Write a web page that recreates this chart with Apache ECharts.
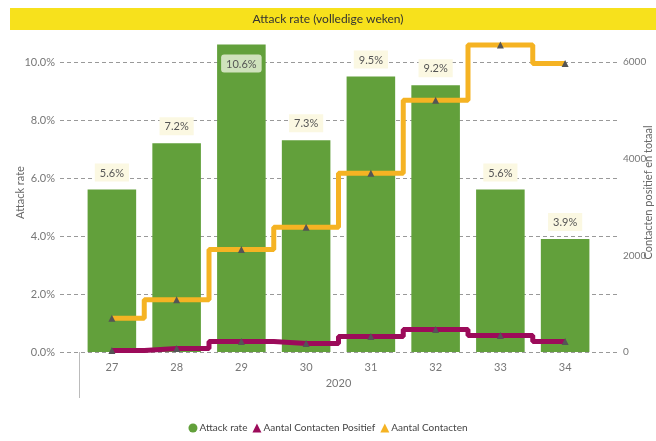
<!DOCTYPE html>
<html>
<head>
<meta charset="utf-8">
<script src="https://cdn.jsdelivr.net/npm/echarts@6/dist/echarts.min.js"></script>
<style>
html,body{margin:0;padding:0;background:#fff;}
#chart{width:656px;height:441px;}
</style>
</head>
<body>
<div id="chart"></div>
<script>
var weeks = ['27','28','29','30','31','32','33','34'];
var yearLabel = ['2020'];
var attackRate = [0.056, 0.072, 0.106, 0.073, 0.095, 0.092, 0.056, 0.039];
var contactenPositief = [30, 70, 215, 175, 320, 465, 340, 215];
var contactenTotaal = [700, 1080, 2120, 2580, 3700, 5210, 6350, 5970];

var FONT = "Lato, 'Open Sans', sans-serif";
var GREEN = '#62a03b';
var PURPLE = '#9c0b5a';
var YELLOW = '#f5b323';

var maxIdx = attackRate.indexOf(Math.max.apply(null, attackRate));
var barData = attackRate.map(function (v, i) {
  if (i === maxIdx) {
    return { value: v, label: { position: 'insideTop', distance: 10, backgroundColor: '#cfe2bc', borderRadius: 3 } };
  }
  return v;
});

var chart = echarts.init(document.getElementById('chart'), null, { renderer: 'canvas' });
var option = {
  animation: false,
  textStyle: { fontFamily: FONT },
  graphic: [
    { type: 'rect', shape: { x: 10, y: 8, width: 646, height: 22 }, style: { fill: '#f7e11c' }, z: 0 },
    { type: 'text', x: 328, y: 19, style: { text: 'Attack rate (volledige weken)', fontFamily: FONT, fontSize: 12, fill: '#333', align: 'center', verticalAlign: 'middle' }, z: 1 },
    { type: 'line', shape: { x1: 79.5, y1: 352, x2: 79.5, y2: 398 }, style: { stroke: '#bbb', lineWidth: 1 } }
  ],
  grid: [
    { left: 60, right: 38, top: 33, bottom: 89, outerBoundsMode: 'none', containLabel: false },
    { left: 79.5, right: 58.5, top: 33, bottom: 89, outerBoundsMode: 'none', containLabel: false }
  ],
  xAxis: [
    { gridIndex: 0, type: 'value', show: false, min: 0, max: 1 },
    { gridIndex: 1, type: 'category', data: weeks, axisLine: { show: false }, axisTick: { show: false },
      axisLabel: { color: '#777', fontSize: 11, margin: 10, fontFamily: FONT } },
    { gridIndex: 1, type: 'category', data: yearLabel, position: 'bottom', offset: 16, axisLine: { show: false }, axisTick: { show: false },
      axisLabel: { color: '#777', fontSize: 11, margin: 10, fontFamily: FONT } }
  ],
  yAxis: [
    { gridIndex: 0, type: 'value', position: 'left', min: 0, max: 0.11, interval: 0.02,
      name: 'Attack rate', nameLocation: 'middle', nameGap: 34, nameRotate: 90, nameMoveOverlap: false,
      nameTextStyle: { color: '#666', fontSize: 11, fontFamily: FONT },
      axisLine: { show: false }, axisTick: { show: false },
      axisLabel: { color: '#777', fontSize: 11, margin: 5, showMaxLabel: false, fontFamily: FONT,
        formatter: function (v) { return (v * 100).toFixed(1) + '%'; } },
      splitLine: { show: true, showMaxLine: false, lineStyle: { color: '#999', type: [4, 3], width: 1 } } },
    { gridIndex: 0, type: 'value', position: 'right', min: 0, max: 6600, interval: 2000,
      name: 'Contacten positief en totaal', nameLocation: 'middle', nameGap: 25, nameRotate: 90, nameMoveOverlap: false,
      nameTextStyle: { color: '#666', fontSize: 11, fontFamily: FONT },
      axisLine: { show: false }, axisTick: { show: false },
      axisLabel: { color: '#777', fontSize: 10, margin: 5, showMaxLabel: false, fontFamily: FONT,
        formatter: function (v) { return String(v); } },
      splitLine: { show: false } },
    { gridIndex: 1, type: 'value', min: 0, max: 0.11, show: false, splitLine: { show: false } },
    { gridIndex: 1, type: 'value', min: 0, max: 6600, show: false, splitLine: { show: false } }
  ],
  legend: {
    bottom: 3, left: 'center',
    itemWidth: 9, itemHeight: 9, itemGap: 5,
    textStyle: { color: '#444', fontSize: 10, fontFamily: FONT, padding: [0, 0, 0, -3] },
    data: [
      { name: 'Attack rate', icon: 'circle', itemStyle: { color: GREEN } },
      { name: 'Aantal Contacten Positief', icon: 'triangle', itemStyle: { color: PURPLE } },
      { name: 'Aantal Contacten', icon: 'triangle', itemStyle: { color: YELLOW } }
    ]
  },
  series: [
    { name: 'Attack rate', type: 'bar', xAxisIndex: 1, yAxisIndex: 2, barWidth: '75%', data: barData,
      itemStyle: { color: GREEN },
      label: { show: true, position: 'top', distance: 8, color: '#555', fontSize: 11, fontFamily: FONT,
        backgroundColor: '#fbf8e2', padding: [4, 5, 3, 5],
        formatter: function (p) { return (p.value * 100).toFixed(1) + '%'; } },
      z: 2 },
    { name: 'Aantal Contacten Positief', type: 'line', xAxisIndex: 1, yAxisIndex: 3, step: 'middle',
      data: contactenPositief, symbol: 'triangle', symbolSize: 7, showAllSymbol: true,
      lineStyle: { color: PURPLE, width: 5 }, itemStyle: { color: '#555' }, z: 4 },
    { name: 'Aantal Contacten', type: 'line', xAxisIndex: 1, yAxisIndex: 3, step: 'middle',
      data: contactenTotaal, symbol: 'triangle', symbolSize: 7, showAllSymbol: true,
      lineStyle: { color: YELLOW, width: 5 }, itemStyle: { color: '#555' }, z: 5 }
  ]
};
chart.setOption(option);
</script>
</body>
</html>
